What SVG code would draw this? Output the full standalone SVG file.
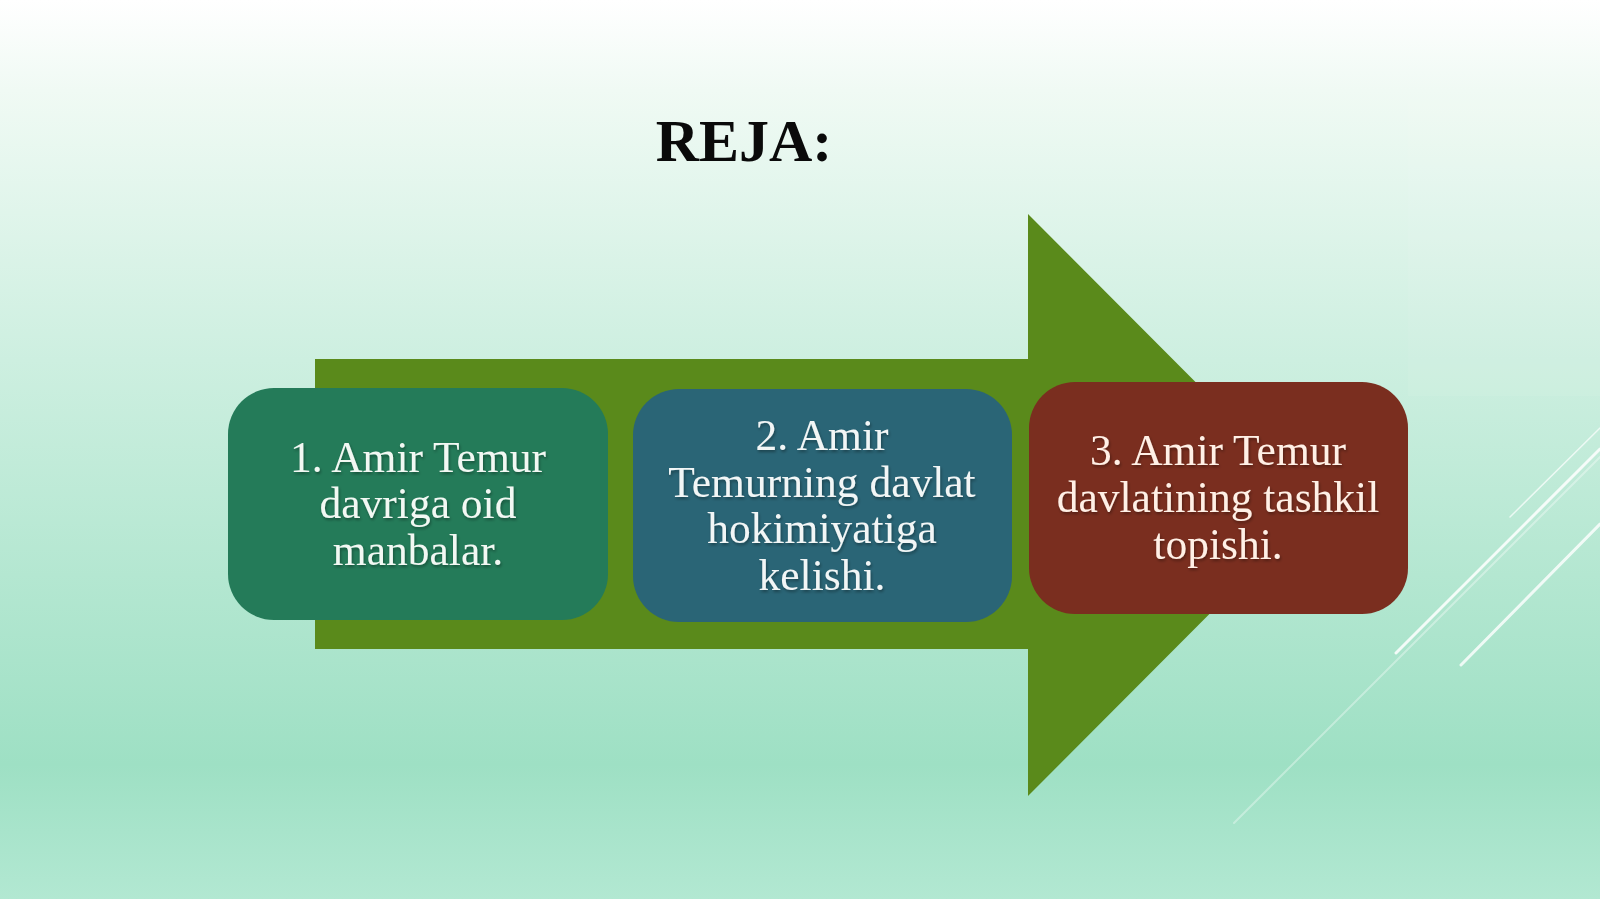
<svg xmlns="http://www.w3.org/2000/svg" width="1600" height="899" viewBox="0 0 1600 899">
<defs>
<linearGradient id="bg" x1="0" y1="0" x2="0" y2="1">
<stop offset="0" stop-color="#FFFFFF"/>
<stop offset="0.1" stop-color="#F0FAF4"/>
<stop offset="0.4" stop-color="#CDEFE0"/>
<stop offset="0.85" stop-color="#9EE0C4"/>
<stop offset="1" stop-color="#B2E8D2"/>
</linearGradient>
<filter id="ts" x="-10%" y="-10%" width="120%" height="130%">
<feDropShadow dx="1" dy="2" stdDeviation="1.5" flood-color="#000" flood-opacity="0.35"/>
</filter>
</defs>
<style>
.lbl{font-family:"Liberation Serif","Times New Roman",serif;font-size:43.5px;text-anchor:middle;}
.title{font-family:"Liberation Serif","Times New Roman",serif;font-size:60px;font-weight:bold;text-anchor:middle;fill:#0A0A0A;}
.deco{stroke:#FFFFFF;fill:none;stroke-linecap:round;}
</style>
<rect x="0" y="0" width="1600" height="899" fill="url(#bg)"/>
<rect x="1408" y="0" width="192" height="396" fill="#FFFFFF" opacity="0.06"/>
<g id="decor">
<line class="deco" x1="1510" y1="517" x2="1600" y2="428" stroke-width="1.5" opacity="0.7"/>
<line class="deco" x1="1396" y1="653" x2="1600" y2="449" stroke-width="3" opacity="0.85"/>
<line class="deco" x1="1234" y1="823" x2="1600" y2="457" stroke-width="2" opacity="0.35"/>
<line class="deco" x1="1461" y1="665" x2="1600" y2="524" stroke-width="3" opacity="0.8"/>
</g>
<text class="title" x="744" y="161">REJA:</text>
<g id="connectors">
<polygon points="315,359 1028,359 1028,214 1318,505 1028,796 1028,649 315,649" fill="#5A8A1B"/>
</g>
<g id="node1">
<rect x="228" y="388" width="380" height="232" rx="46" fill="#247B59"/>
<text class="lbl" fill="#F2F8F3" filter="url(#ts)"><tspan x="418" y="472">1. Amir Temur</tspan><tspan x="418" y="518">davriga oid</tspan><tspan x="418" y="565">manbalar.</tspan></text>
</g>
<g id="node2">
<rect x="633" y="389" width="379" height="233" rx="46" fill="#2A6576"/>
<text class="lbl" fill="#F2F6F6" filter="url(#ts)"><tspan x="822" y="450">2. Amir</tspan><tspan x="822" y="497">Temurning davlat</tspan><tspan x="822" y="543">hokimiyatiga</tspan><tspan x="822" y="590">kelishi.</tspan></text>
</g>
<g id="node3">
<rect x="1029" y="382" width="379" height="232" rx="46" fill="#7A2E1F"/>
<text class="lbl" fill="#FFF0E6" filter="url(#ts)"><tspan x="1218" y="465">3. Amir Temur</tspan><tspan x="1218" y="512">davlatining tashkil</tspan><tspan x="1218" y="559">topishi.</tspan></text>
</g>
</svg>
